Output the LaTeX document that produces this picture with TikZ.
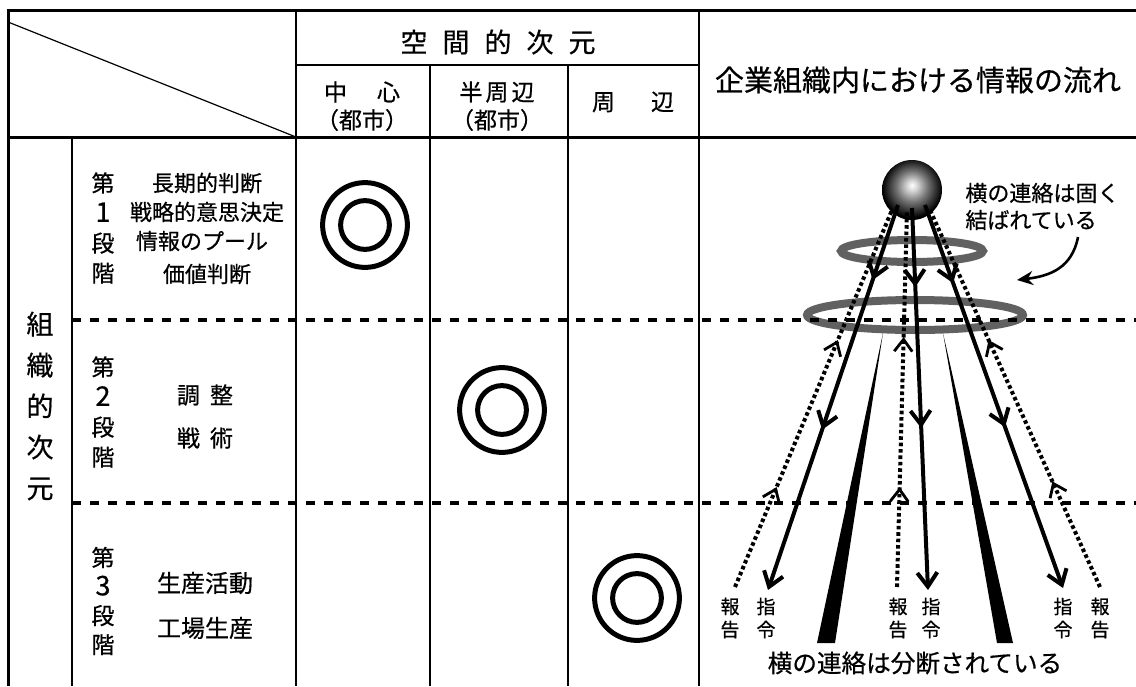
\documentclass[tikz,border=0pt]{standalone}
\usepackage{fontspec}
\setmainfont{Noto Sans CJK JP}[FakeBold=0.6]
\usetikzlibrary{arrows.meta,decorations.markings}
\pgfdeclareradialshading{sphshade}{\pgfpoint{0bp}{4bp}}{color(0bp)=(white); color(4bp)=(white!85!black); color(13bp)=(black!55); color(21bp)=(black!85); color(25bp)=(black); color(50bp)=(black)}
\newcommand{\bigdigit}[1]{{\fontsize{13.5pt}{14pt}\selectfont #1}}
\tikzset{
  cmdtip/.tip={Straight Barb[length=7pt,width=10pt]},
  reptip/.tip={Straight Barb[length=6pt,width=9pt]},
  frame/.style={line width=1.5pt},
  grid/.style={line width=0.9pt},
  stagedash/.style={line width=2pt, dash pattern=on 4.5pt off 4.5pt},
  ring/.style={line width=4pt, draw=black!62},
  target/.style={line width=2.5pt},
  cmd/.style={line width=2pt},
  rep/.style={line width=2pt, dash pattern=on 1.8pt off 1.4pt},
  txt/.style={inner sep=0pt, font=\fontsize{11pt}{15pt}\selectfont},
  stagecol/.style={txt, align=center, font=\fontsize{11.5pt}{15pt}\selectfont},
}
\begin{document}
\begin{tikzpicture}[x=0.5pt,y=-0.5pt]
\useasboundingbox (0,0) rectangle (1136,686);
% table frame
\draw[frame] (8,686) -- (8,10) -- (1136,10);
\draw[frame] (8,137) -- (1136,137);
\draw[grid] (72,137) -- (72,686);
\draw[grid] (296,10) -- (296,686);
\draw[grid] (430,65) -- (430,686);
\draw[grid] (568,65) -- (568,686);
\draw[grid] (699,10) -- (699,686);
\draw[grid] (296,65) -- (699,65);
\draw[line width=0.6pt] (8,22) -- (296,137);
% rings
\draw[ring] (912,251) ellipse [x radius=35.5pt, y radius=5.5pt];
\draw[ring] (915,315) ellipse [x radius=54pt, y radius=7.5pt];
% stage dividers
\draw[stagedash] (72,320) -- (1136,320);
\draw[stagedash] (72,503) -- (1136,503);
% targets
\foreach \p in {(365,225),(502,410),(637,598)}{
  \draw[target] \p circle [radius=21.2pt];
  \draw[target] \p circle [radius=12.2pt];
}
% sphere
\coordinate (sph) at (912,190);
\shade[shading=sphshade] (sph) circle [radius=15pt];
% coordinates for flows
\coordinate (cL0) at (898,205); \coordinate (cL1) at (768,590);
\coordinate (cC0) at (912,208); \coordinate (cC1) at (928,590);
\coordinate (cR0) at (925,205); \coordinate (cR1) at (1063,588);
\coordinate (rL0) at (735,587); \coordinate (rL1) at (892,210);
\coordinate (rC0) at (897,587); \coordinate (rC1) at (907,210);
\coordinate (rR0) at (1100,587); \coordinate (rR1) at (930,210);
% wedges
\coordinate (wL0) at (883,333); \coordinate (wLa) at (817,643); \coordinate (wLb) at (835,643);
\coordinate (wR0) at (943,333); \coordinate (wRa) at (997,643); \coordinate (wRb) at (1013,643);
\fill (wL0) -- (wLa) -- (wLb) -- cycle;
\fill (wR0) -- (wRa) -- (wRb) -- cycle;
% command arrows
\draw[cmd, -{cmdtip}, postaction=decorate, decoration={markings,
  mark=at position 0.195 with {\arrow{cmdtip}}, mark=at position 0.584 with {\arrow{cmdtip}}}] (cL0) -- (cL1);
\draw[cmd, -{cmdtip}, postaction=decorate, decoration={markings,
  mark=at position 0.207 with {\arrow{cmdtip}}, mark=at position 0.576 with {\arrow{cmdtip}}}] (cC0) -- (cC1);
\draw[cmd, -{cmdtip}, postaction=decorate, decoration={markings,
  mark=at position 0.204 with {\arrow{cmdtip}}, mark=at position 0.58 with {\arrow{cmdtip}}}] (cR0) -- (cR1);
% report arrows
\draw[rep, postaction=decorate, decoration={markings,
  mark=at position 0.265 with {\arrow[line width=1.4pt]{reptip}}, mark=at position 0.655 with {\arrow[line width=1.4pt]{reptip}}}] (rL0) -- (rL1);
\draw[rep, postaction=decorate, decoration={markings,
  mark=at position 0.265 with {\arrow[line width=1.4pt]{reptip}}, mark=at position 0.663 with {\arrow[line width=1.4pt]{reptip}}}] (rC0) -- (rC1);
\draw[rep, postaction=decorate, decoration={markings,
  mark=at position 0.28 with {\arrow[line width=1.4pt]{reptip}}, mark=at position 0.655 with {\arrow[line width=1.4pt]{reptip}}}] (rR0) -- (rR1);
% curved arrow
\coordinate (ca0) at (1078,237); \coordinate (ca1) at (1017,280);
\draw[line width=1.3pt, -{Stealth[length=8pt,width=7pt]}] (ca0) .. controls (1072,268) and (1050,276) .. (ca1);
% header texts
\node[txt, font=\fontsize{13.5pt}{15pt}\selectfont] (hsp) at (498,42) {空\hspace{7.5pt}間\hspace{7.5pt}的\hspace{7.5pt}次\hspace{7.5pt}元};
\node[txt, font=\fontsize{11.5pt}{14pt}\selectfont] (hc1) at (362,92) {中\hspace{15pt}心};
\node[txt, font=\fontsize{11.5pt}{14pt}\selectfont] (hc2) at (362,120) {（都市）};
\node[txt, font=\fontsize{11.5pt}{14pt}\selectfont] (hs1) at (497,92) {半\hspace{1.5pt}周\hspace{1.5pt}辺};
\node[txt, font=\fontsize{11.5pt}{14pt}\selectfont] (hs2) at (497,120) {（都市）};
\node[txt, font=\fontsize{11.5pt}{14pt}\selectfont] (hp) at (633,102) {周\hspace{18pt}辺};
\node[txt, font=\fontsize{14.5pt}{17pt}\selectfont] (hr) at (918,80) {企業組織内における情報の流れ};
% left texts
\node[txt, align=center, font=\fontsize{13.5pt}{20.5pt}\selectfont] (org) at (40,406) {組\\織\\的\\次\\元};
\node[stagecol] (st1) at (103,228) {第\\\bigdigit{1}\\段\\階};
\node[stagecol] (st2) at (103,412) {第\\\bigdigit{2}\\段\\階};
\node[stagecol, font=\fontsize{11.5pt}{14.5pt}\selectfont] (st3) at (103,601) {第\\\bigdigit{3}\\段\\階};
\node[txt] (a1) at (207,183) {長期的判断};
\node[txt] (a2) at (207,212) {戦略的意思決定};
\node[txt] (a3) at (202,241) {情報のプール};
\node[txt] (a4) at (207,274) {価値判断};
\node[txt, font=\fontsize{11.5pt}{14pt}\selectfont] (b1) at (205,395) {調\hspace{5pt}整};
\node[txt, font=\fontsize{11.5pt}{14pt}\selectfont] (b2) at (205,438) {戦\hspace{5pt}術};
\node[txt, font=\fontsize{12pt}{14pt}\selectfont] (c1) at (205,583) {生産活動};
\node[txt, font=\fontsize{12pt}{14pt}\selectfont] (c2) at (205,628) {工場生産};
% right texts
\node[txt, anchor=west] (t1) at (965,193) {横の連絡は固く};
\node[txt, anchor=west] (t2) at (965,220) {結ばれている};
\node[txt, font=\fontsize{12.3pt}{14pt}\selectfont] (t3) at (915,663) {横の連絡は分断されている};
\foreach \x/\a/\b/\n in {730/報/告/l1, 766/指/令/l2, 898/報/告/l3, 931/指/令/l4, 1063/指/令/l5, 1100/報/告/l6}{
  \node[txt, align=center, font=\fontsize{9.5pt}{11.5pt}\selectfont] (\n) at (\x,618) {\a\\\b};
}
\end{tikzpicture}
\end{document}
